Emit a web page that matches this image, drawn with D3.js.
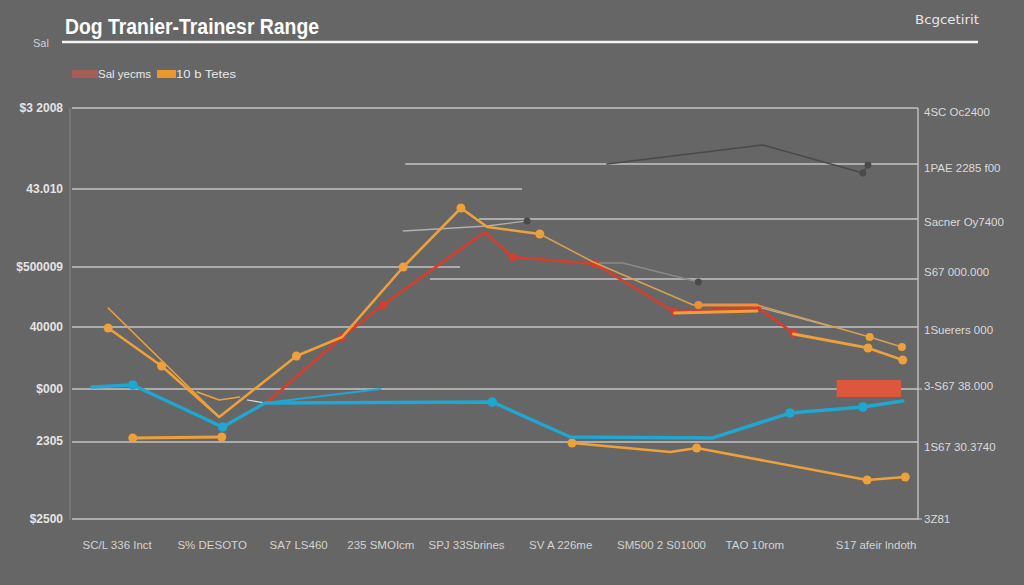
<!DOCTYPE html>
<html><head><meta charset="utf-8">
<script src="https://cdn.jsdelivr.net/npm/d3@7"></script>
<style>html,body{margin:0;padding:0;background:#666666;} svg{display:block;}</style>
</head><body><svg id="c" width="1024" height="585"></svg>
<script>
// ---------------- DATA ----------------
const titleText = "Dog Tranier-Trainesr Range";
const cornerText = "Bcgcetirit";
const sideText = "Sal";
const legendLabels = ["Sal yecms", "10 b Tetes"];

const xCategories = ["SC/L 336 Inct", "S% DESOTO", "SA7 LS460", "235 SMOIcm", "SPJ 33Sbrines",
                     "SV A 226me", "SM500 2 S01000", "TAO 10rom", "S17 afeir lndoth"];
const xCategoryPos = [0.55, 1.67, 2.69, 3.66, 4.67, 5.78, 6.97, 8.07, 9.50];

const leftTickVals = [10000, 8423, 6905, 5737, 4530, 3518, 2000];
const leftTickLabels = ["$3 2008", "43.010", "$500009", "40000", "$000", "2305", "$2500"];

const rightTickVals = [9922, 8832, 7781, 6808, 5679, 4589, 3402, 2000];
const rightTickLabels = ["4SC Oc2400", "1PAE 2285 f00", "Sacner Oy7400", "S67 000.000",
                         "1Suerers 000", "3-S67 38.000", "1S67 30.3740", "3Z81"];

const gridVals = [10000, 8910, 8423, 7840, 6905, 6672, 5737, 4530, 3499, 2000];
const gridFrom = [0, 3.93, 0, 4.80, 0, 4.22, 0, 0, 0, 0];
const gridTo   = [10, 10, 5.33, 10, 4.60, 10, 10, 10, 10, 10];

const blueMain = [[0.26,4569],[0.74,4608],[1.80,3791],[2.30,4258],[4.98,4277],[5.90,3596],[7.58,3577],[8.49,4063],[9.35,4180],[9.82,4297]];
const blueMainDots = [1,2,4,7,8];
const blueThin = [[2.30,4258],[3.66,4530]];

const orangeMain = [[0.45,5718],[1.08,4978],[1.76,3985],[2.67,5173],[3.21,5543],[3.93,6905],[4.61,8054],[4.92,7684],[5.54,7548]];
const orangeMainDots = [0,1,3,5,6,8];
const orangeThinV = [[0.45,6107],[1.76,3985]];
const orangeThinInner = [[1.50,4472],[1.76,4316],[2.00,4375]];
const orangeLow1 = [[0.74,3577],[1.79,3596]];
const orangeLow2 = [[5.92,3479],[7.08,3304],[7.39,3382],[9.40,2759],[9.85,2818]];
const orangeLow2Dots = [0,2,3,4];

const redSeries = [[2.33,4277],[3.21,5543],[3.69,6166],[4.89,7586],[5.22,7100],[6.19,6964],[7.13,6029],[8.10,6127],[8.53,5620]];
const redDots = [1,2,4,5,6,7,8];

const orangeB = [[7.13,6010],[8.10,6049]];
const orangeC = [[8.53,5601],[9.41,5329],[9.82,5095]];
const orangeCDots = [1,2];
const orangeThin1 = [[5.54,7548],[6.17,7002],[7.35,6166],[8.10,6166],[9.43,5543],[9.81,5348]];
const orangeThin1Dots = [4,5];
const orangeD = [[7.41,6166],[8.10,6166]];
const orangeDDots = [0];

const grayTop = [[6.33,8910],[8.17,9280],[9.35,8735],[9.41,8891]];
const grayTopDots = [2,3];
const grayMid = [[6.20,6983],[6.52,6983],[7.41,6613]];
const grayMidDots = [2];
const grayDot = [[5.39,7801]];
const grayLight1 = [[3.93,7606],[4.92,7703],[5.39,7801]];
const grayLight2 = [[8.15,6107],[8.99,5737]];
const whiteThin = [[2.09,4316],[2.30,4258]];

const redBox = [9.04, 9.80, 4375, 4706]; // x0, x1, y0, y1 in data units

// ---------------- DRAW ----------------
const svg = d3.select("#c");
const W = 1024, H = 585;
const x = d3.scaleLinear().domain([0, 10]).range([70, 918]);
const y = d3.scaleLinear().domain([2000, 10000]).range([519, 108]);

svg.append("rect").attr("width", W).attr("height", H).attr("fill", "#666666");

// header
svg.append("text").attr("x", 65).attr("y", 34).text(titleText)
  .attr("font-family", "Liberation Sans, Arial, sans-serif").attr("font-weight", "bold")
  .attr("font-size", 22).attr("fill", "#ffffff")
  .attr("textLength", 254).attr("lengthAdjust", "spacingAndGlyphs");
svg.append("text").attr("x", 33).attr("y", 47).text(sideText)
  .attr("font-family", "Liberation Sans, Arial, sans-serif").attr("font-size", 11).attr("fill", "#d0d0d0");
svg.append("line").attr("x1", 62).attr("x2", 978).attr("y1", 42).attr("y2", 42)
  .attr("stroke", "#f4f4f4").attr("stroke-width", 2.5);
svg.append("text").attr("x", 979).attr("y", 24).attr("text-anchor", "end").text(cornerText)
  .attr("font-family", "DejaVu Sans, sans-serif").attr("font-size", 13).attr("fill", "#e6e6e6")
  .attr("textLength", 64).attr("lengthAdjust", "spacingAndGlyphs");

// legend
const legColors = ["#a85e58", "#eb972b"];
const legX = [72, 157], legW = [26, 19], legTW = [53, 60];
legendLabels.forEach((t, i) => {
  svg.append("rect").attr("x", legX[i]).attr("y", 70).attr("width", legW[i]).attr("height", 8).attr("fill", legColors[i]);
  svg.append("text").attr("x", legX[i] + legW[i]).attr("y", 78).text(t)
    .attr("font-family", "Liberation Sans, Arial, sans-serif").attr("font-size", 11)
    .attr("fill", "#e8e8e8").attr("textLength", legTW[i]).attr("lengthAdjust", "spacingAndGlyphs");
});

// gridlines
const grid = svg.append("g");
gridVals.forEach((v, i) => {
  grid.append("line").attr("x1", x(gridFrom[i]) + 2).attr("x2", x(gridTo[i]))
    .attr("y1", y(v)).attr("y2", y(v)).attr("stroke", "#c4c4c4").attr("stroke-width", 1.6);
});
// frame verticals
svg.append("line").attr("x1", x(0)).attr("x2", x(0)).attr("y1", y(10000)).attr("y2", y(2000) + 1)
  .attr("stroke", "#7c7c7c").attr("stroke-width", 1.5);
svg.append("line").attr("x1", x(10)).attr("x2", x(10)).attr("y1", y(10000)).attr("y2", y(2000) + 1)
  .attr("stroke", "#bdbdbd").attr("stroke-width", 1.5);
[4530, 2000].forEach(v => svg.append("line").attr("x1", x(10)).attr("x2", x(10) + 4)
  .attr("y1", y(v)).attr("y2", y(v)).attr("stroke", "#bdbdbd").attr("stroke-width", 1.2));

// axes
const leftAxis = d3.axisLeft(y).tickValues(leftTickVals)
  .tickFormat((d, i) => leftTickLabels[i]).tickSize(0).tickPadding(7);
const gl = svg.append("g").attr("transform", `translate(${x(0)},0)`).call(leftAxis);
gl.select(".domain").remove();
gl.selectAll("text").attr("font-family", "Liberation Sans, Arial, sans-serif")
  .attr("font-size", 12).attr("font-weight", "bold").attr("fill", "#e4e4e4");

const rightAxis = d3.axisRight(y).tickValues(rightTickVals)
  .tickFormat((d, i) => rightTickLabels[i]).tickSize(0).tickPadding(6);
const gr = svg.append("g").attr("transform", `translate(${x(10)},0)`).call(rightAxis);
gr.select(".domain").remove();
gr.selectAll("text").attr("font-family", "Liberation Sans, Arial, sans-serif")
  .attr("font-size", 11.5).attr("fill", "#dadada");

const xAxis = d3.axisBottom(x).tickValues(xCategoryPos)
  .tickFormat((d, i) => xCategories[i]).tickSize(0).tickPadding(22);
const gx = svg.append("g").attr("transform", `translate(0,${y(2000)})`).call(xAxis);
gx.select(".domain").remove();
gx.selectAll("text").attr("font-family", "Liberation Sans, Arial, sans-serif")
  .attr("font-size", 11.5).attr("fill", "#d2d2d2");

// series
const line = d3.line().x(d => x(d[0])).y(d => y(d[1]));
function drawLine(data, color, width) {
  svg.append("path").datum(data).attr("d", line).attr("fill", "none")
    .attr("stroke", color).attr("stroke-width", width)
    .attr("stroke-linejoin", "round").attr("stroke-linecap", "round");
}
function drawDots(data, idx, color, r) {
  svg.append("g").selectAll("circle").data(idx.map(i => data[i])).join("circle")
    .attr("cx", d => x(d[0])).attr("cy", d => y(d[1])).attr("r", r).attr("fill", color);
}

const BLUE = "#1ea7d1", ORANGE = "#eea03a", RED = "#d63d2c", DGRAY = "#4a4a4a", LGRAY = "#b0b0b0";

drawLine(grayLight1, LGRAY, 1.3);
drawLine(grayLight2, LGRAY, 1.2);
drawLine(grayTop, DGRAY, 1.4);
drawDots(grayTop, grayTopDots, DGRAY, 3.5);
drawLine(grayMid, "#8a8a8a", 1.4);
drawDots(grayMid, grayMidDots, DGRAY, 3.5);
drawDots(grayDot, [0], DGRAY, 3.5);
drawLine(whiteThin, "#e0e0e0", 1.2);

drawLine(orangeThinV, ORANGE, 1.6);
drawLine(orangeThinInner, ORANGE, 1.6);
drawLine(redSeries, RED, 2.6);
drawDots(redSeries, redDots, RED, 4);
drawLine(orangeMain, ORANGE, 2.6);
drawDots(orangeMain, orangeMainDots, ORANGE, 4.5);
drawLine(orangeThin1, "#d9a050", 1.5);
drawDots(orangeThin1, orangeThin1Dots, ORANGE, 4);
drawLine(orangeD, "#f0903a", 3);
drawDots(orangeD, orangeDDots, "#f0903a", 4);
drawLine(orangeB, ORANGE, 3);
drawLine(orangeC, ORANGE, 2.8);
drawDots(orangeC, orangeCDots, ORANGE, 4.5);
drawLine(orangeLow1, ORANGE, 2.8);
drawDots(orangeLow1, [0, 1], ORANGE, 4.5);
drawLine(orangeLow2, ORANGE, 2.6);
drawDots(orangeLow2, orangeLow2Dots, ORANGE, 4.5);

drawLine(blueThin, BLUE, 2);
drawLine(blueMain, BLUE, 3.4);
drawDots(blueMain, blueMainDots, BLUE, 4.8);

svg.append("rect").attr("x", x(redBox[0])).attr("y", y(redBox[3]))
  .attr("width", x(redBox[1]) - x(redBox[0])).attr("height", y(redBox[2]) - y(redBox[3]))
  .attr("fill", "#dc573b");
</script>
</body></html>
